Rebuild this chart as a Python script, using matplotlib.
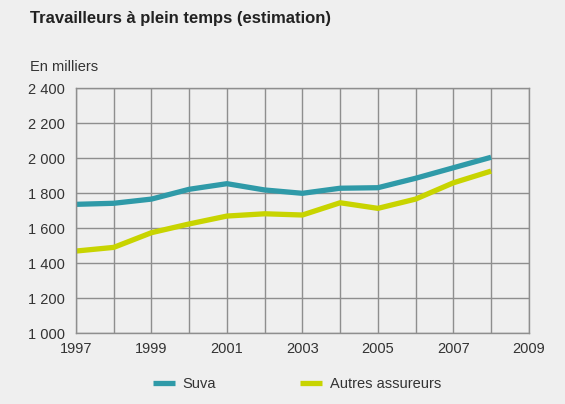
import matplotlib.pyplot as plt
import numpy as np

# data (thousands)
years = np.arange(1997, 2009)
suva = [1737, 1743, 1767, 1823, 1855, 1819, 1800, 1829, 1832, 1886, 1946, 2006]
autres = [1470, 1491, 1575, 1625, 1670, 1683, 1676, 1746, 1714, 1767, 1860, 1927]
yticks = [1000, 1200, 1400, 1600, 1800, 2000, 2200, 2400]
xticks = list(range(1997, 2010))

bg = '#efefef'
grid_c = '#8e8e8e'
txt_c = '#333333'

plt.rcParams['font.family'] = ['Liberation Sans', 'DejaVu Sans']

fig = plt.figure(figsize=(5.65, 4.04), dpi=100, facecolor=bg)
ax = fig.add_axes([0.1345, 0.175, 0.8015, 0.6064], facecolor=bg)

ax.plot(years, suva, color='#2f9aa8', lw=3.8, label='Suva', solid_capstyle='butt')
ax.plot(years, autres, color='#c8d400', lw=3.8, label='Autres assureurs', solid_capstyle='butt')

ax.set_xlim(1997, 2009)
ax.set_ylim(1000, 2400)
ax.set_xticks(xticks)
ax.set_xticklabels([str(y) if (y - 1997) % 2 == 0 else '' for y in xticks])
ax.set_yticks(yticks)
ax.set_yticklabels([f'{v:,}'.replace(',', ' ') for v in yticks])
ax.grid(True, color=grid_c, lw=1.0)
ax.set_axisbelow(True)
for s in ax.spines.values():
    s.set_color(grid_c)
    s.set_linewidth(1.0)
ax.tick_params(length=0, labelsize=10.5, colors=txt_c, pad=4)
ax.tick_params(axis='x', pad=6)
ax.tick_params(axis='y', pad=8)

fig.text(30 / 565, 1 - 18 / 404, 'Travailleurs à plein temps (estimation)', fontsize=12,
         fontweight='bold', color='#222222', va='center', ha='left')
fig.text(30 / 565, 1 - 67 / 404, 'En milliers', fontsize=10.5, color=txt_c, va='center', ha='left')

fig.legend(loc='center', bbox_to_anchor=(297 / 565, 1 - 384 / 404), ncol=2, frameon=False,
           fontsize=10.5, handlelength=1.5, columnspacing=5.8, handletextpad=0.5,
           labelcolor=txt_c)

fig.savefig('out.png', dpi=100, facecolor=bg)
